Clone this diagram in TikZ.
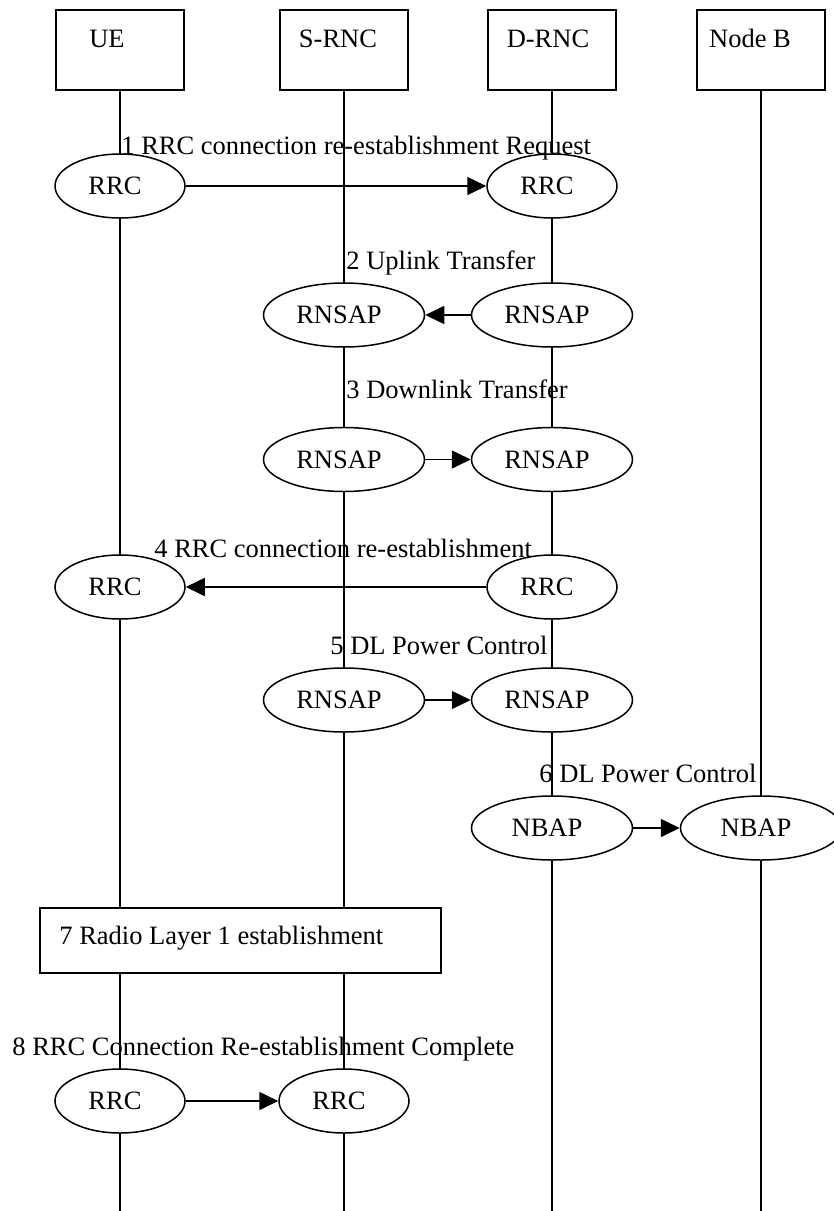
\documentclass[tikz,border=0pt]{standalone}
\usepackage{fontspec}
\setmainfont{Liberation Serif}
\usetikzlibrary{arrows.meta,shapes.geometric}

\tikzset{
  hdr/.style={draw, line width=0.75pt, minimum width=64pt, minimum height=40pt,
              inner sep=0pt, fill=white},
  hdrtxt/.style={anchor=base, inner sep=0pt},
  proc/.style={draw, ellipse, line width=0.75pt, minimum height=32pt, inner sep=0pt,
               fill=white, execute at end node={\hspace{5pt}}},
  rrc/.style={proc, minimum width=65pt},
  ap/.style={proc, minimum width=80.5pt},
  phase/.style={draw, line width=0.75pt, minimum width=200.5pt, minimum height=32.5pt,
                inner sep=0pt, fill=white},
  life/.style={line width=0.6pt},
  msg/.style={line width=0.8pt, -{Triangle[length=9.5pt,width=9pt]}},
  lbl/.style={anchor=base west, inner sep=0pt}
}

\begin{document}
\begin{tikzpicture}[x=0.5pt, y=-0.5pt, font=\fontsize{13.25pt}{16pt}\selectfont]
  \clip (0,0) rectangle (834,1211);

  % entities
  \node[hdr] (ue)    at (120,50) {};
  \node[hdr] (srnc)  at (344,50) {};
  \node[hdr] (drnc)  at (552,50) {};
  \node[hdr] (nodeb) at (761,50) {};
  \node[hdrtxt] (ue-t)    at (107,47) {UE};
  \node[hdrtxt] (srnc-t)  at (338,47) {S-RNC};
  \node[hdrtxt] (drnc-t)  at (548,47) {D-RNC};
  \node[hdrtxt] (nodeb-t) at (750,47) {Node B};

  % lifelines
  \coordinate (ue-end)    at (120,1211);
  \coordinate (srnc-end)  at (344,1211);
  \coordinate (drnc-end)  at (552,1211);
  \coordinate (nodeb-end) at (761,1211);
  \draw[life] (ue.south)    -- (ue-end);
  \draw[life] (srnc.south)  -- (srnc-end);
  \draw[life] (drnc.south)  -- (drnc-end);
  \draw[life] (nodeb.south) -- (nodeb-end);

  % 1 RRC connection re-establishment request
  \node[rrc] (s1a) at (120,186) {RRC};
  \node[rrc] (s1b) at (552,186) {RRC};
  \draw[msg] (s1a.east) -- (s1b.west);
  \node[lbl] (l1) at (121,154) {1 RRC connection re-establishment Request};

  % 2 uplink transfer
  \node[ap] (s2a) at (344,315) {RNSAP};
  \node[ap] (s2b) at (552,315) {RNSAP};
  \draw[msg] (s2b.west) -- (s2a.east);
  \node[lbl] (l2) at (346,269) {2 Uplink Transfer};

  % 3 downlink transfer
  \node[ap] (s3a) at (344,459.5) {RNSAP};
  \node[ap] (s3b) at (552,459.5) {RNSAP};
  \draw[msg] (s3a.east) -- (s3b.west);
  \node[lbl] (l3) at (346,398) {3 Downlink Transfer};

  % 4 RRC connection re-establishment
  \node[rrc] (s4a) at (120,587) {RRC};
  \node[rrc] (s4b) at (552,587) {RRC};
  \draw[msg] (s4b.west) -- (s4a.east);
  \node[lbl] (l4) at (154,557) {4 RRC connection re-establishment};

  % 5 DL power control (RNSAP)
  \node[ap] (s5a) at (344,700) {RNSAP};
  \node[ap] (s5b) at (552,700) {RNSAP};
  \draw[msg] (s5a.east) -- (s5b.west);
  \node[lbl] (l5) at (330,654) {5 DL Power Control};

  % 6 DL power control (NBAP)
  \node[ap] (s6a) at (552,828) {NBAP};
  \node[ap] (s6b) at (761,828) {NBAP};
  \draw[msg] (s6a.east) -- (s6b.west);
  \node[lbl] (l6) at (539,782) {6 DL Power Control};

  % 7 radio layer 1 establishment
  \node[phase] (s7) at (240.5,940.5) {};
  \node[lbl] (l7) at (59,944) {7 Radio Layer 1 establishment};

  % 8 RRC connection re-establishment complete
  \node[rrc] (s8a) at (120,1101) {RRC};
  \node[rrc] (s8b) at (344,1101) {RRC};
  \draw[msg] (s8a.east) -- (s8b.west);
  \node[lbl] (l8) at (12,1055) {8 RRC Connection Re-establishment Complete};
\end{tikzpicture}
\end{document}
